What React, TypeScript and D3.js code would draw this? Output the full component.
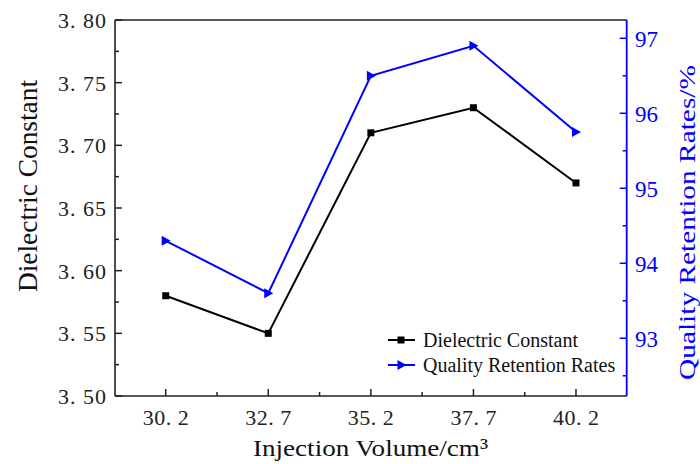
import React from "react";
import * as d3 from "d3";

const volumes = [30.2, 32.7, 35.2, 37.7, 40.2];
const xTickLabels = ["30. 2", "32. 7", "35. 2", "37. 7", "40. 2"];
const dielectric = [3.58, 3.55, 3.71, 3.73, 3.67];
const retention = [94.3, 93.6, 96.5, 96.9, 95.75];
const leftTicks = [3.5, 3.55, 3.6, 3.65, 3.7, 3.75, 3.8];
const leftTickLabels = ["3. 50", "3. 55", "3. 60", "3. 65", "3. 70", "3. 75", "3. 80"];
const leftMinor = [3.525, 3.575, 3.625, 3.675, 3.725, 3.775];
const rightTicks = [93, 94, 95, 96, 97];
const rightMinor = [92.5, 93.5, 94.5, 95.5, 96.5];
const xMinor = [31.45, 33.95, 36.45, 38.95];
const seriesNames = ["Dielectric Constant", "Quality Retention Rates"];

const W = 700, H = 464;
const L = 115, R = 626.7, T = 20, B = 396;
const FONT = "'Liberation Serif', 'Times New Roman', serif";
const BLUE = "#0000ff";

export default function App() {
  const x = d3.scaleLinear().domain([28.964, 41.436]).range([L, R]);
  const yL = d3.scaleLinear().domain([3.5, 3.8]).range([B, T]);
  const yR = d3.scaleLinear().domain([92.23, 97.244]).range([B, T]);

  const lineL = d3.line<number>().x((_, i) => x(volumes[i])).y((d) => yL(d));
  const lineR = d3.line<number>().x((_, i) => x(volumes[i])).y((d) => yR(d));

  const tri = (cx: number, cy: number, s = 5) =>
    `M${cx - s * 0.8},${cy - s} L${cx + s},${cy} L${cx - s * 0.8},${cy + s} Z`;

  return (
    <svg width={W} height={H} style={{ position: "absolute", left: 0, top: 0, background: "#fff" }}>
      <line x1={L} x2={R} y1={T} y2={T} stroke="#222" strokeWidth={1.6} />
      <line x1={L} x2={L} y1={T} y2={B} stroke="#222" strokeWidth={1.6} />
      {leftTicks.map((v, i) => (
        <g key={"lt" + i}>
          <line x1={L} x2={L + 7} y1={yL(v)} y2={yL(v)} stroke="#222" strokeWidth={1.5} />
          <text x={106} y={yL(v) + 8} textAnchor="end" fontFamily={FONT} fontSize={22} fill="#222" textLength={48} lengthAdjust="spacing">
            {leftTickLabels[i]}
          </text>
        </g>
      ))}
      {leftMinor.map((v, i) => (
        <line key={"lm" + i} x1={L} x2={L + 4} y1={yL(v)} y2={yL(v)} stroke="#222" strokeWidth={1.5} />
      ))}
      <line x1={L} x2={R} y1={B} y2={B} stroke="#222" strokeWidth={1.6} />
      {volumes.map((v, i) => (
        <g key={"xt" + i}>
          <line x1={x(v)} x2={x(v)} y1={B} y2={B - 7} stroke="#222" strokeWidth={1.5} />
          <text x={x(v)} y={425} textAnchor="middle" fontFamily={FONT} fontSize={22} fill="#222" textLength={46} lengthAdjust="spacing">
            {xTickLabels[i]}
          </text>
        </g>
      ))}
      {xMinor.map((v, i) => (
        <line key={"xm" + i} x1={x(v)} x2={x(v)} y1={B} y2={B - 4} stroke="#222" strokeWidth={1.5} />
      ))}
      <line x1={R} x2={R} y1={T} y2={B} stroke={BLUE} strokeWidth={1.8} />
      {rightTicks.map((v, i) => (
        <g key={"rt" + i}>
          <line x1={R} x2={R - 7} y1={yR(v)} y2={yR(v)} stroke={BLUE} strokeWidth={1.5} />
          <text x={635} y={yR(v) + 9} textAnchor="start" fontFamily={FONT} fontSize={23} fill={BLUE}>
            {String(v)}
          </text>
        </g>
      ))}
      {rightMinor.map((v, i) => (
        <line key={"rm" + i} x1={R} x2={R - 4} y1={yR(v)} y2={yR(v)} stroke={BLUE} strokeWidth={1.5} />
      ))}

      <text transform={`translate(37,186) rotate(-90)`} textAnchor="middle" fontFamily={FONT} fontSize={27} fill="#111" textLength={212} lengthAdjust="spacingAndGlyphs">
        Dielectric Constant
      </text>
      <text x={370.5} y={456} textAnchor="middle" fontFamily={FONT} fontSize={24} fill="#111" textLength={235} lengthAdjust="spacingAndGlyphs">
        Injection Volume/cm³
      </text>
      <text transform={`translate(695,222.5) rotate(-90)`} textAnchor="middle" fontFamily={FONT} fontSize={24} fill={BLUE} textLength={315} lengthAdjust="spacingAndGlyphs">
        Quality Retention Rates/%
      </text>

      <path d={lineL(dielectric) || ""} fill="none" stroke="#000" strokeWidth={2} />
      <path d={lineR(retention) || ""} fill="none" stroke={BLUE} strokeWidth={2} />
      {dielectric.map((d, i) => (
        <rect key={"sq" + i} x={x(volumes[i]) - 3.5} y={yL(d) - 3.5} width={7} height={7} fill="#000" />
      ))}
      {retention.map((d, i) => (
        <path key={"tr" + i} d={tri(x(volumes[i]), yR(d))} fill={BLUE} />
      ))}

      <line x1={388} x2={415} y1={340} y2={340} stroke="#000" strokeWidth={2} />
      <rect x={397.5} y={336.5} width={7} height={7} fill="#000" />
      <text x={423} y={347} fontFamily={FONT} fontSize={20} fill="#111">{seriesNames[0]}</text>
      <line x1={388} x2={415} y1={365} y2={365} stroke={BLUE} strokeWidth={2} />
      <path d={tri(401.5, 365)} fill={BLUE} />
      <text x={423} y={372} fontFamily={FONT} fontSize={20} fill="#111">{seriesNames[1]}</text>
    </svg>
  );
}
